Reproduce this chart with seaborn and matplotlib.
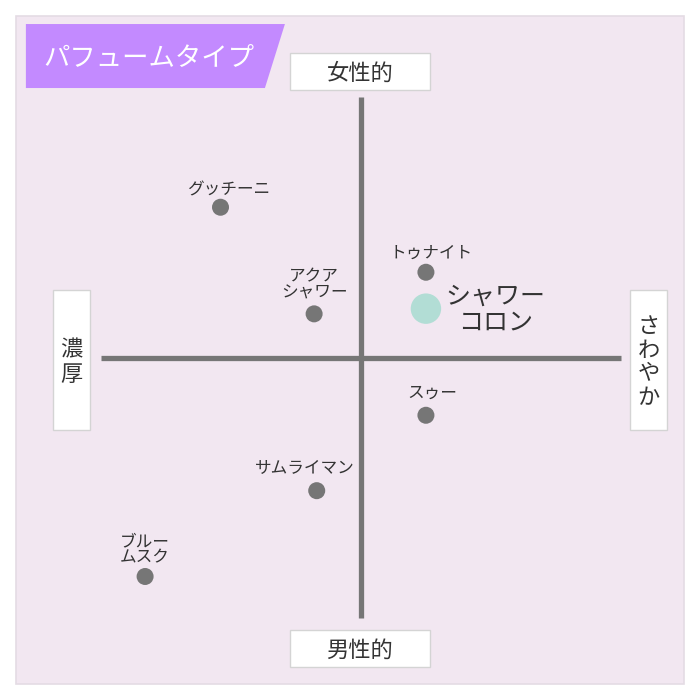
import matplotlib
matplotlib.use('Agg')
import matplotlib.pyplot as plt
import seaborn as sns
import pandas as pd
from matplotlib.patches import Rectangle, Polygon

# perfume positions: x = 濃厚(-) .. さわやか(+), y = 男性的(-) .. 女性的(+)
names = ['グッチーニ', 'トゥナイト', 'アクア\nシャワー', 'スゥー', 'サムライマン', 'ブルー\nムスク']
x_vals = [-0.54, 0.25, -0.18, 0.25, -0.17, -0.83]
y_vals = [0.58, 0.33, 0.17, -0.22, -0.51, -0.84]

hl_name = 'シャワー\nコロン'
hl_x = [0.25]
hl_y = [0.19]

title = 'パフュームタイプ'
axis_top, axis_bottom, axis_left, axis_right = '女性的', '男性的', '濃厚', 'さわやか'

# label nudges in pixels (right, up) relative to each point
label_dx = [8, 5, 0, 6, -12, 0]
label_dy = [17, 19, 29, 22, 22, 27]

df = pd.DataFrame({'name': names, 'x': x_vals, 'y': y_vals})
hl = pd.DataFrame({'x': hl_x, 'y': hl_y})

sns.set_theme(style='white')
plt.rcParams['font.family'] = ['Noto Sans CJK JP', 'DejaVu Sans']

fig = plt.figure(figsize=(7, 7), dpi=100)
ax = fig.add_axes([0, 0, 1, 1])
ax.set_xlim(-1.388, 1.304)
ax.set_ylim(-1.315, 1.377)
ax.axis('off')

# pixel -> data helpers for the layout pieces
def px(v):
    return (v - 361) / 260

def py(v):
    return (358 - v) / 260

# background panel
ax.add_patch(Rectangle((px(16), py(684)), px(684) - px(16), py(16) - py(684),
                       facecolor='#f2e7f1', edgecolor='#e4dce4', lw=1.2, zorder=0))

# title banner
ax.add_patch(Polygon([(px(26), py(24)), (px(285), py(24)), (px(265), py(88)), (px(26), py(88))],
                     closed=True, facecolor='#c38aff', edgecolor='none', zorder=1))
ax.text(px(149), py(57), title, color='white', fontsize=19, ha='center', va='center', zorder=2)

# cross axes
ax.plot([-1, 1], [0, 0], color='#767676', lw=3.8, solid_capstyle='butt', zorder=1)
ax.plot([0, 0], [-1, 1.005], color='#767676', lw=3.8, solid_capstyle='butt', zorder=1)

# axis label boxes
def label_box(x0, y0, x1, y1, text, vertical=False):
    ax.add_patch(Rectangle((px(x0), py(y1)), px(x1) - px(x0), py(y0) - py(y1),
                           facecolor='white', edgecolor='#d4d4d4', lw=1, zorder=2))
    if vertical:
        text = '\n'.join(text)
    ax.text(px((x0 + x1) / 2), py((y0 + y1) / 2 + 2), text, color='#333333', fontsize=16,
            ha='center', va='center', linespacing=1.05, zorder=3)

label_box(290, 53, 430, 90, axis_top)
label_box(290, 630, 430, 667, axis_bottom)
label_box(53, 290, 90, 430, axis_left, vertical=True)
label_box(630, 290, 667, 430, axis_right, vertical=True)

# points
sns.scatterplot(data=df, x='x', y='y', ax=ax, color='#767676', s=150, edgecolor='none', zorder=4, legend=False)
sns.scatterplot(data=hl, x='x', y='y', ax=ax, color='#b2ddd5', s=480, edgecolor='none', zorder=4, legend=False)
ax.set_xlabel('')
ax.set_ylabel('')

for i, r in df.iterrows():
    ax.annotate(r['name'], (r['x'], r['y']), xytext=(label_dx[i] * 0.72, label_dy[i] * 0.72),
                textcoords='offset points', ha='center', va='center', fontsize=12,
                color='#333333', linespacing=0.92, zorder=5)

ax.annotate(hl_name, (hl_x[0], hl_y[0]), xytext=(50, -1), textcoords='offset points',
            ha='center', va='center', fontsize=18, color='#333333', linespacing=0.98, zorder=5)

fig.savefig('out.png', dpi=100)
